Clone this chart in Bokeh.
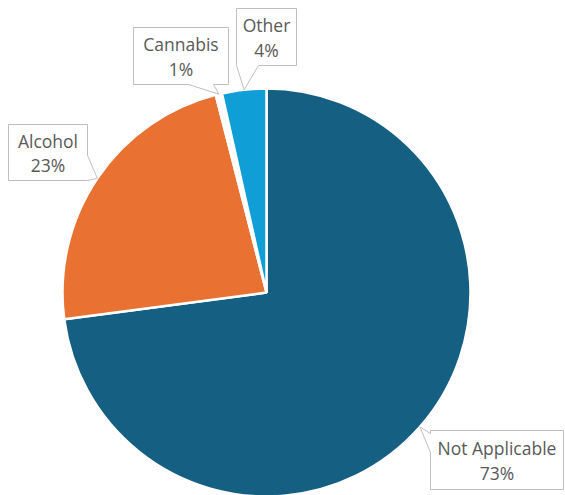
import math

from bokeh.core.properties import value
from bokeh.embed import file_html
from bokeh.models import ColumnDataSource, Range1d
from bokeh.plotting import figure
from bokeh.resources import INLINE

# Share of cases by substance (percent)
categories = ["Not Applicable", "Alcohol", "Cannabis", "Other"]
shares = [72.9, 23.1, 0.5, 3.5]
colors = ["#156082", "#E97132", "#FFFFFF", "#0F9ED5"]

W, H = 565, 495
CX, CY, R = 266, 292, 204          # pie centre / radius in page pixels (y down)
FONT = "Open Sans"
FONT_SIZE = "17.5px"
TEXT_COLOR = "#595959"
BOX_LINE = "#BFBFBF"


def fy(ypx):
    """Page pixel row -> data y."""
    return H - ypx


p = figure(width=W, height=H, output_backend="svg", toolbar_location=None,
           x_range=Range1d(0, W), y_range=Range1d(0, H), min_border=0,
           background_fill_color="white", border_fill_color="white")
p.axis.visible = False
p.grid.visible = False
p.outline_line_color = None

# Slices, clockwise from 12 o'clock
total = sum(shares)
starts, ends, tips = [], [], []
cum = 0.0
for v in shares:
    a0 = cum / total
    a1 = (cum + v) / total
    starts.append(math.pi / 2 - 2 * math.pi * a0)
    ends.append(math.pi / 2 - 2 * math.pi * a1)
    mid = 2 * math.pi * (a0 + a1) / 2
    tips.append((CX + R * math.sin(mid), CY - R * math.cos(mid)))
    cum += v

src = ColumnDataSource(dict(start=starts, end=ends, color=colors, cat=categories))
p.wedge(x=CX, y=fy(CY), radius=R, start_angle="start", end_angle="end",
        direction="clock", fill_color="color", line_color="white",
        line_width=2.5, source=src)

# Callout boxes: (left, top, right, bottom), pointer edge and its base span
callouts = {
    "Not Applicable": ((430, 430, 563, 489), "left", (433, 452)),
    "Alcohol": ((8, 124, 87, 180), "right", (155, 180)),
    "Cannabis": ((133, 27, 228, 84), "bottom", (188, 213)),
    "Other": ((236, 8, 296, 65), "bottom", (236, 258)),
}

xs_all, ys_all = [], []
tx, ty1, ty2, names, pcts = [], [], [], [], []
for cat, v, tip in zip(categories, shares, tips):
    (l, t, r, b), edge, (s0, s1) = callouts[cat]
    if edge == "left":
        pts = [(l, t), (r, t), (r, b), (l, b), (l, s1), tip, (l, s0)]
    elif edge == "right":
        pts = [(l, t), (r, t), (r, s0), tip, (r, s1), (r, b), (l, b)]
    else:  # bottom
        pts = [(l, t), (r, t), (r, b), (s1, b), tip, (s0, b), (l, b)]
    xs_all.append([q[0] for q in pts])
    ys_all.append([fy(q[1]) for q in pts])
    cx = (l + r) / 2
    tx.append(cx)
    ty1.append(fy(t + (b - t) * 0.29))
    ty2.append(fy(t + (b - t) * 0.72))
    names.append(cat)
    pcts.append(f"{int(math.floor(v + 0.5))}%")

p.patches(xs=xs_all, ys=ys_all, fill_color="white", line_color=BOX_LINE,
          line_width=1)

p.text(x=tx, y=ty1, text=names, text_align="center", text_baseline="middle",
       text_font=value(FONT), text_font_size=FONT_SIZE, text_color=TEXT_COLOR)
p.text(x=tx, y=ty2, text=pcts, text_align="center", text_baseline="middle",
       text_font=value(FONT), text_font_size=FONT_SIZE, text_color=TEXT_COLOR)

open("out.html", "w").write(file_html(p, INLINE))
